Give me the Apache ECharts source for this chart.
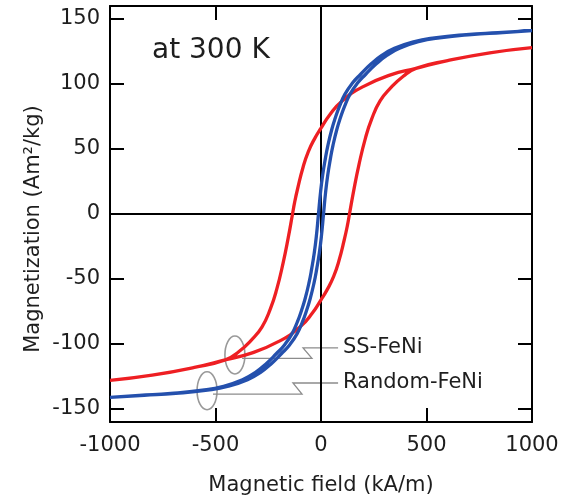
<!DOCTYPE html>
<html>
<head>
<meta charset="utf-8">
<script src="https://cdn.jsdelivr.net/npm/echarts@6/dist/echarts.min.js"></script>
<style>
  html, body { margin: 0; background: #fff; }
  #chart { width: 567px; height: 500px; }
</style>
</head>
<body>
<div id="chart"></div>
<script>
// tick values
const xTicks = [-1000, -500, 0, 500, 1000];
const yTicks = [-150, -100, -50, 0, 50, 100, 150];

// SS-FeNi loop (red), [H kA/m, M Am2/kg]
const ssDown = [[1000,128],[800,124],[600,118],[450,112],[330,107],[200,98],[100,87],[40,76],[0,66],
  [-30,58],[-60,48],[-85,36],[-110,20],[-125,9],[-135,0],[-155,-18],[-180,-38],[-210,-58],[-240,-73],
  [-280,-87],[-330,-97],[-390,-106],[-450,-112],[-600,-118],[-800,-124],[-1000,-128]];
const ssUp = [[-1000,-128],[-800,-124],[-600,-118],[-450,-112],[-330,-107],[-200,-98],[-100,-87],[-40,-76],[0,-66],
  [30,-58],[60,-48],[85,-36],[110,-20],[125,-9],[135,0],[155,18],[180,38],[210,58],[240,73],
  [280,87],[330,97],[390,106],[450,112],[600,118],[800,124],[1000,128]];

// Random-FeNi loop (blue)
const rndDown = [[1000,141],[838,139.5],[688,138],[538,135.5],[438,132.5],[348,127.5],[288,122],[238,115.5],[188,107.5],
  [148,100.5],[113,92],[88,83],[68,74],[51,65],[33,53],[20,42],[8,30],[-2,17],[-12,0],[-22,-17],[-32,-30],
  [-44,-42],[-57,-53],[-75,-65],[-92,-74],[-112,-83],[-137,-92],[-172,-100.5],[-212,-107.5],[-262,-115.5],
  [-312,-122],[-372,-127.5],[-462,-132.5],[-562,-135.5],[-712,-138],[-862,-139.5],[-1000,-141]];
const rndUp = [[-1000,-141],[-838,-139.5],[-688,-138],[-538,-135.5],[-438,-132.5],[-348,-127.5],[-288,-122],[-238,-115.5],[-188,-107.5],
  [-148,-100.5],[-113,-92],[-88,-83],[-68,-74],[-51,-65],[-33,-53],[-20,-42],[-8,-30],[2,-17],[12,0],[22,17],[32,30],
  [44,42],[57,53],[75,65],[92,74],[112,83],[137,92],[172,100.5],[212,107.5],[262,115.5],
  [312,122],[372,127.5],[462,132.5],[562,135.5],[712,138],[862,139.5],[1000,141]];

// zero lines
const zeroH = [[-1000,0],[1000,0]];
const zeroV = [[0,-160],[0,160]];

// annotations (data coords)
const notes = [
  { name: 'SS-FeNi', ring: [-408,-108.5], path: [[-374,-111],[-43,-111],[-85,-103],[81,-103]], text: [104,-103] },
  { name: 'Random-FeNi', ring: [-540,-136], path: [[-512,-138.5],[-90,-138.5],[-133,-130],[81,-130]], text: [104,-130] }
];

const FONT = 'DejaVu Sans';
const INK = '#1e1e1e';
const chart = echarts.init(document.getElementById('chart'), null, { renderer: 'canvas' });

const frameLine = { show: true, onZero: false, lineStyle: { color: '#000', width: 2 } };
const tick = { show: true, inside: true, length: 14, lineStyle: { color: '#000', width: 2 } };

const option = {
  animation: false,
  grid: { left: 110, right: 35, top: 6, bottom: 78, outerBoundsMode: 'none' },
  xAxis: [
    {
      type: 'value', min: -1000, max: 1000, interval: 500, position: 'bottom',
      axisLine: frameLine, axisTick: tick, splitLine: { show: false },
      axisLabel: { fontSize: 21, fontFamily: FONT, color: INK, margin: 13, formatter: v => String(v) },
      name: 'Magnetic field (kA/m)', nameLocation: 'middle', nameGap: 53,
      nameTextStyle: { fontSize: 21, fontFamily: FONT, color: INK }
    },
    {
      type: 'value', min: -1000, max: 1000, interval: 500, position: 'top',
      axisLine: frameLine, axisTick: tick, axisLabel: { show: false }, splitLine: { show: false }
    }
  ],
  yAxis: [
    {
      type: 'value', min: -160, max: 160, position: 'left',
      axisLine: frameLine, axisTick: Object.assign({ customValues: yTicks }, tick), splitLine: { show: false },
      axisLabel: { customValues: yTicks, fontSize: 21, fontFamily: FONT, color: INK, margin: 10 }
    },
    {
      type: 'value', min: -160, max: 160, position: 'right',
      axisLine: frameLine, axisTick: Object.assign({ customValues: yTicks }, tick),
      axisLabel: { show: false }, splitLine: { show: false }
    }
  ],
  series: [
    { type: 'line', data: zeroH, symbol: 'none', silent: true, lineStyle: { color: '#000', width: 2 } },
    { type: 'line', data: zeroV, symbol: 'none', silent: true, lineStyle: { color: '#000', width: 2 } },
    { name: 'SS-FeNi', type: 'line', data: ssDown.concat(ssUp), symbol: 'none', smooth: 0.5,
      lineStyle: { color: '#ee1f23', width: 3.3 } },
    { name: 'Random-FeNi', type: 'line', data: rndDown.concat(rndUp), symbol: 'none', smooth: 0.5,
      lineStyle: { color: '#2450ad', width: 3.3 } }
  ]
};
chart.setOption(option);

const px = (p) => chart.convertToPixel({ xAxisIndex: 0, yAxisIndex: 0 }, p);
const g = [
  { type: 'text', left: 152, top: 37,
    style: { text: 'at 300 K', fontSize: 28, fontFamily: FONT, fill: INK } },
  // y-axis title, rotated
  { type: 'text', x: 34, y: 229, rotation: Math.PI / 2,
    style: { text: 'Magnetization (Am²/kg)', fontSize: 21, fontFamily: FONT, fill: INK,
      textAlign: 'center', textVerticalAlign: 'middle' } }
];
notes.forEach(n => {
  const c = px(n.ring);
  g.push({ type: 'ellipse', z: 1, shape: { cx: c[0], cy: c[1], rx: 10, ry: 19 },
    style: { fill: 'none', stroke: '#999', lineWidth: 1.6 } });
  g.push({ type: 'polyline', z: 1, shape: { points: n.path.map(px) },
    style: { fill: 'none', stroke: '#8c8c8c', lineWidth: 1.3 } });
  const t = px(n.text);
  g.push({ type: 'text', x: t[0], y: t[1],
    style: { text: n.name, fontSize: 21, fontFamily: FONT, fill: INK, textVerticalAlign: 'middle' } });
});
chart.setOption({ graphic: g });
</script>
</body>
</html>
